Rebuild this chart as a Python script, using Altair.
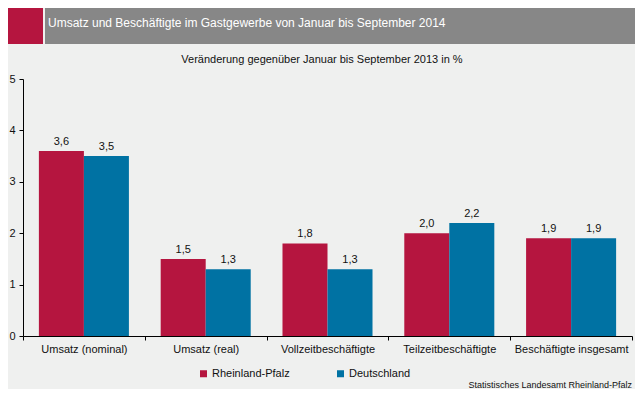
import altair as alt
import pandas as pd

# ---------------- data ----------------
categories = ["Umsatz (nominal)", "Umsatz (real)", "Vollzeitbeschäftigte",
              "Teilzeitbeschäftigte", "Beschäftigte insgesamt"]
series = ["Rheinland-Pfalz", "Deutschland"]
rp_values = [3.6, 1.5, 1.8, 2.0, 1.9]
de_values = [3.5, 1.3, 1.3, 2.2, 1.9]
y_ticks = [0, 1, 2, 3, 4, 5]

title_text = "Umsatz und Beschäftigte im Gastgewerbe von Januar bis September 2014"
subtitle_text = "Veränderung gegenüber Januar bis September 2013 in %"
source_text = "Statistisches Landesamt Rheinland-Pfalz"

rows = []
for i, c in enumerate(categories):
    rows.append({"Kategorie": c, "Region": series[0], "Wert": rp_values[i]})
    rows.append({"Kategorie": c, "Region": series[1], "Wert": de_values[i]})
df = pd.DataFrame(rows)

# ---------------- style ----------------
RED = "#b5153f"
BLUE = "#0072a3"
GRAY = "#878787"
BG = "#eff0ef"
FONT = "Liberation Sans"
NARROW = "Liberation Sans Narrow, Arial Narrow, Liberation Sans"
W, H = 609, 257

one = pd.DataFrame({"a": [0]})

base = alt.Chart(df)

x_enc = alt.X("Kategorie:N", sort=categories,
              scale=alt.Scale(paddingInner=0, paddingOuter=0),
              axis=alt.Axis(title=None, labelAngle=0, tickBand="extent", tickSize=4,
                            domainColor="black", tickColor="black", labelColor="#111111",
                            labelFontSize=11, labelFont=FONT, labelPadding=3))
xo_enc = alt.XOffset("Region:N", sort=series,
                     scale=alt.Scale(paddingInner=0, paddingOuter=0.353))
y_enc = alt.Y("Wert:Q", scale=alt.Scale(domain=[0, 5], nice=False),
              axis=alt.Axis(title=None, values=y_ticks, grid=False, tickSize=4,
                            domainColor="black", tickColor="black", labelColor="#111111",
                            labelFontSize=11, labelFont=FONT, labelPadding=4))

bars = base.mark_bar().encode(
    x=x_enc, xOffset=xo_enc, y=y_enc,
    color=alt.Color("Region:N", sort=series,
                    scale=alt.Scale(domain=series, range=[RED, BLUE]),
                    legend=alt.Legend(orient="none", legendX=175, legendY=289,
                                      direction="horizontal", title=None,
                                      symbolType="square", symbolSize=49,
                                      symbolStrokeWidth=0, labelFontSize=11,
                                      labelFont=FONT, labelColor="#111111",
                                      columnPadding=45, labelOffset=3)),
)

labels = base.transform_calculate(
    lab="replace(format(datum.Wert, '.1f'), '.', ',')"
).mark_text(baseline="bottom", dy=-4, fontSize=11, font=FONT, color="#111111").encode(
    x=alt.X("Kategorie:N", sort=categories), xOffset=alt.XOffset("Region:N", sort=series),
    y="Wert:Q", text="lab:N")

red_box = alt.Chart(one).mark_rect(color=RED).encode(
    x=alt.value(-15), x2=alt.value(20), y=alt.value(-71), y2=alt.value(-35))
gray_box = alt.Chart(one).mark_rect(color=GRAY).encode(
    x=alt.value(22), x2=alt.value(612), y=alt.value(-71), y2=alt.value(-35))
title = alt.Chart(one).mark_text(align="left", baseline="middle", color="white",
                                 fontSize=12, font=NARROW).encode(
    x=alt.value(25), y=alt.value(-56), text=alt.value(title_text))
subtitle = alt.Chart(one).mark_text(align="center", baseline="middle", color="#111111",
                                    fontSize=11, font=FONT).encode(
    x=alt.value(299), y=alt.value(-19), text=alt.value(subtitle_text))
source = alt.Chart(one).mark_text(align="right", baseline="middle", color="#111111",
                                  fontSize=9, font=NARROW).encode(
    x=alt.value(609), y=alt.value(306), text=alt.value(source_text))

chart = alt.layer(red_box, gray_box, title, subtitle, bars, labels, source).properties(
    width=W, height=H,
    autosize=alt.AutoSizeParams(type="none"),
    padding={"left": 15, "top": 71, "right": 3, "bottom": 53},
    background=BG,
).configure_view(stroke=None)

chart.save("out.html", embed_options={"renderer": "svg", "actions": False})
